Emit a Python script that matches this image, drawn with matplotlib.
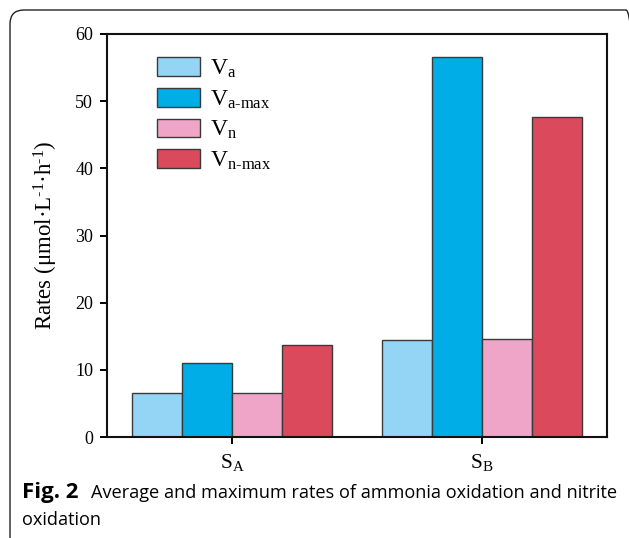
import matplotlib
matplotlib.use("Agg")
import matplotlib.pyplot as plt
import numpy as np
from matplotlib.patches import FancyBboxPatch
from matplotlib.transforms import IdentityTransform

# ---- data ----
groups = [r"S$_{\mathrm{A}}$", r"S$_{\mathrm{B}}$"]
series_labels = [r"V$_{\mathrm{a}}$", r"V$_{\text{a-max}}$",
                 r"V$_{\mathrm{n}}$", r"V$_{\text{n-max}}$"]
va = [6.5, 14.4]
va_max = [11.05, 56.6]
vn = [6.5, 14.55]
vn_max = [13.65, 47.7]
series_values = [va, va_max, vn, vn_max]
colors = ["#94D5F5", "#00ADE6", "#EFA5C8", "#DB4A5C"]
yticks = [0, 10, 20, 30, 40, 50, 60]

plt.rcParams["font.family"] = ["Liberation Serif", "DejaVu Serif"]
plt.rcParams["mathtext.fontset"] = "custom"
plt.rcParams["mathtext.rm"] = "Liberation Serif"
plt.rcParams["mathtext.it"] = "Liberation Serif:italic"
plt.rcParams["mathtext.bf"] = "Liberation Serif:bold"

W, H = 629, 538
fig = plt.figure(figsize=(W / 100, H / 100), dpi=100)
fig.patch.set_facecolor("white")

# rounded border frame (cropped at right/bottom), in pixel coordinates
border = FancyBboxPatch((10, -20), 640 - 10, 528 + 20,
                        boxstyle="round,pad=0,rounding_size=14",
                        transform=IdentityTransform(), fill=False,
                        edgecolor="#222222", linewidth=1.0, clip_on=False)
fig.add_artist(border)

ax = fig.add_axes([107 / W, 101 / H, 500 / W, 403 / H])
x = np.arange(len(groups))
width = 0.2
offsets = [-1.5, -0.5, 0.5, 1.5]
handles = []
for vals, lab, col, off in zip(series_values, series_labels, colors, offsets):
    b = ax.bar(x + off * width, vals, width, color=col, edgecolor="#3a3a3a",
               linewidth=1.0, label=lab, zorder=2)
    handles.append(b)

ax.set_xlim(-0.5, 1.5)
ax.set_ylim(0, 60)
ax.set_yticks(yticks)
ax.set_yticklabels([str(t) for t in yticks], fontsize=13)
ax.set_xticks(x)
ax.set_xticklabels(groups, fontsize=15.5)
for s in ax.spines.values():
    s.set_linewidth(1.5)
    s.set_color("#111111")
ax.tick_params(axis="y", direction="out", length=5, width=1.4, pad=5)
ax.tick_params(axis="x", direction="out", length=5, width=1.4, pad=6)

ax.set_ylabel(r"Rates (μmol·L$^{\text{-1}}$·h$^{\text{-1}}$)", fontsize=16.5)
ax.yaxis.set_label_coords(-0.094, 0.5)

leg = ax.legend(handles=handles, labels=series_labels, loc="upper left",
                bbox_to_anchor=(0.1, 0.943), frameon=False, fontsize=17,
                handlelength=1.82, handleheight=0.85, handletextpad=0.42,
                labelspacing=0.335, borderpad=0, borderaxespad=0)
for p in leg.get_patches():
    p.set_edgecolor("#3a3a3a")
    p.set_linewidth(1.0)

# caption
cap_font = ["Open Sans", "DejaVu Sans"]
fig.text(22 / W, 1 - 498 / H, "Fig. 2", fontsize=16, fontweight="bold",
         family=cap_font, va="baseline", ha="left")
fig.text(91 / W, 1 - 498 / H,
         "Average and maximum rates of ammonia oxidation and nitrite",
         fontsize=13.1, family=cap_font, va="baseline", ha="left")
fig.text(22 / W, 1 - 525 / H, "oxidation", fontsize=13.1, family=cap_font,
         va="baseline", ha="left")

fig.savefig("out.png", dpi=100)
